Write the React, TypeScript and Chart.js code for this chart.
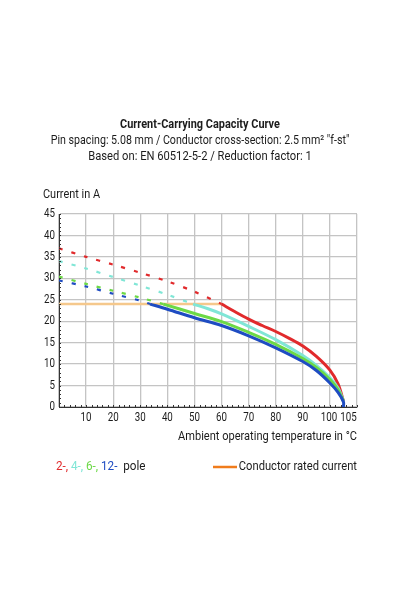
import React, { useEffect, useRef } from "react";
import { Chart, registerables } from "chart.js";

Chart.register(...registerables);

const FONT = "Roboto, 'Noto Sans', sans-serif";

// Title texts
const titleLines = [
  "Current-Carrying Capacity Curve",
  "Pin spacing: 5.08 mm / Conductor cross-section: 2.5 mm\u00B2 \"f-st\"",
  "Based on: EN 60512-5-2 / Reduction factor: 1",
];
const yAxisTitle = "Current in A";
const xAxisTitle = "Ambient operating temperature in \u00B0C";

// Axis ticks
const xGridValues = [0, 10, 20, 30, 40, 50, 60, 70, 80, 90, 100, 110];
const xTickLabels = [10, 20, 30, 40, 50, 60, 70, 80, 90, 100, 105];
const yTickLabels = [0, 5, 10, 15, 20, 25, 30, 35, 40, 45];

// 2-pole (red)
const redDashT = [0, 10, 20, 30, 40, 50, 60];
const redDashI = [37.0, 35.0, 33.2, 31.3, 29.3, 26.9, 24.0];
const redT = [60, 65, 70, 75, 80, 85, 90, 95, 100, 103, 105];
const redI = [24.0, 22.2, 20.5, 19.0, 17.6, 16.0, 14.2, 11.8, 8.6, 5.4, 1.4];

// 4-pole (cyan)
const cyanDashT = [0, 10, 20, 30, 40, 49.5];
const cyanDashI = [34.0, 32.3, 30.3, 28.3, 26.2, 24.0];
const cyanT = [49.5, 55, 60, 70, 80, 90, 95, 100, 103, 105];
const cyanI = [24.0, 22.9, 21.7, 18.8, 15.7, 12.0, 9.7, 6.8, 4.4, 1.4];

// 6-pole (green)
const greenDashT = [0, 10, 20, 30, 38.5];
const greenDashI = [30.4, 28.7, 27.1, 25.5, 24.0];
const greenT = [38.5, 50, 60, 70, 80, 90, 95, 100, 103, 105];
const greenI = [24.0, 21.8, 19.9, 17.4, 14.6, 11.3, 9.2, 6.4, 4.0, 1.4];

// 12-pole (blue)
const blueDashT = [0, 10, 20, 30, 33.6];
const blueDashI = [29.5, 28.1, 26.4, 24.8, 24.0];
const blueT = [33.6, 40, 50, 60, 70, 80, 90, 95, 100, 103, 105, 105];
const blueI = [24.0, 22.8, 20.8, 19.0, 16.6, 13.8, 10.6, 8.5, 5.6, 3.4, 1.2, 0];

// Conductor rated current (orange)
const ratedT = [0, 60];
const ratedI = [24, 24];

const RED = "#e12a2c";
const CYAN = "#80e6d6";
const GREEN = "#6cd946";
const BLUE = "#1e4cc2";
const ORANGE_LINE = "#f5c88c";
const ORANGE_LEGEND = "#f07c1c";
const TEXT = "#1c1c1c";

const legendParts = [
  { text: "2-,", color: RED },
  { text: " 4-,", color: CYAN },
  { text: " 6-,", color: GREEN },
  { text: " 12-", color: BLUE },
  { text: "  pole", color: TEXT },
];
const ratedLegend = "Conductor rated current";

const zip = (t: number[], v: number[]) => t.map((x, i) => ({ x, y: v[i] }));

// draws horizontally condensed text; returns drawn width
function drawText(
  ctx: CanvasRenderingContext2D,
  text: string,
  x: number,
  y: number,
  align: "left" | "center" | "right",
  font: string,
  sx: number,
  color: string
) {
  ctx.save();
  ctx.font = font;
  ctx.fillStyle = color;
  ctx.textAlign = "left";
  ctx.textBaseline = "middle";
  const w = ctx.measureText(text).width * sx;
  const left = align === "left" ? x : align === "center" ? x - w / 2 : x - w;
  ctx.translate(left, y);
  ctx.scale(sx, 1);
  ctx.fillText(text, 0, 0);
  ctx.restore();
  return w;
}

const overlay = {
  id: "overlay",
  afterDraw(chart: any) {
    const ctx = chart.ctx as CanvasRenderingContext2D;
    const xs = chart.scales.x;
    const ys = chart.scales.y;
    const area = chart.chartArea;
    ctx.save();
    // minor ticks
    ctx.strokeStyle = "#333";
    ctx.lineWidth = 1;
    ctx.beginPath();
    for (let v = 0; v <= 45; v += 1) {
      const py = Math.round(ys.getPixelForValue(v)) + 0.5;
      ctx.moveTo(area.left, py);
      ctx.lineTo(area.left + 2, py);
    }
    for (let v = 0; v <= 110; v += 2) {
      const px = Math.round(xs.getPixelForValue(v)) + 0.5;
      ctx.moveTo(px, area.bottom);
      ctx.lineTo(px, area.bottom - 2);
    }
    ctx.stroke();
    ctx.restore();

    const tickFont = `12.5px ${FONT}`;
    xTickLabels.forEach((v) => {
      const off = v === 105 ? 5 : v === 100 ? -1 : 0;
      drawText(ctx, String(v), xs.getPixelForValue(v) + off, area.bottom + 11, "center", tickFont, 0.78, TEXT);
    });
    yTickLabels.forEach((v) => {
      drawText(ctx, String(v), area.left - 4, ys.getPixelForValue(v), "right", tickFont, 0.78, TEXT);
    });

    // titles
    drawText(ctx, titleLines[0], 200, 125, "center", `bold 13px ${FONT}`, 0.84, TEXT);
    drawText(ctx, titleLines[1], 200, 141, "center", `13px ${FONT}`, 0.82, TEXT);
    drawText(ctx, titleLines[2], 200, 157, "center", `13px ${FONT}`, 0.86, TEXT);

    const f13 = `13px ${FONT}`;
    drawText(ctx, yAxisTitle, 43, 195, "left", f13, 0.84, TEXT);
    drawText(ctx, xAxisTitle, area.right, 437, "right", f13, 0.85, TEXT);

    // legend
    let lx = 56;
    legendParts.forEach((p) => {
      lx += drawText(ctx, p.text, lx, 467, "left", f13, 0.9, p.color);
    });
    ctx.save();
    ctx.strokeStyle = ORANGE_LEGEND;
    ctx.lineWidth = 2.5;
    ctx.beginPath();
    ctx.moveTo(213, 467);
    ctx.lineTo(237, 467);
    ctx.stroke();
    ctx.restore();
    drawText(ctx, ratedLegend, area.right, 467, "right", f13, 0.86, TEXT);
  },
};

export default function App() {
  const ref = useRef<HTMLCanvasElement | null>(null);
  useEffect(() => {
    if (!ref.current) return;
    const solid = (data: any[], color: string) => ({
      data,
      borderColor: color,
      borderWidth: 3,
      pointRadius: 0,
      fill: false,
      tension: 0.35,
    });
    const dashed = (data: any[], color: string) => ({
      data,
      borderColor: color,
      borderWidth: 2.2,
      borderDash: [4, 9],
      pointRadius: 0,
      fill: false,
      tension: 0.3,
    });
    const chart = new Chart(ref.current, {
      type: "line",
      data: {
        datasets: [
          solid(zip(blueT, blueI), BLUE),
          solid(zip(greenT, greenI), GREEN),
          solid(zip(cyanT, cyanI), CYAN),
          solid(zip(redT, redI), RED),
          dashed(zip(blueDashT, blueDashI), BLUE),
          dashed(zip(greenDashT, greenDashI), GREEN),
          dashed(zip(cyanDashT, cyanDashI), CYAN),
          dashed(zip(redDashT, redDashI), RED),
          { ...solid(zip(ratedT, ratedI), ORANGE_LINE), borderWidth: 2.5, tension: 0 },
        ],
      },
      options: {
        responsive: false,
        animation: false,
        events: [],
        layout: { padding: { left: 0, top: 214, right: 43, bottom: 193 } },
        plugins: { legend: { display: false }, tooltip: { enabled: false }, title: { display: false } },
        scales: {
          x: {
            type: "linear",
            min: 0,
            max: 110,
            afterBuildTicks: (s: any) => {
              s.ticks = xGridValues.map((v) => ({ value: v }));
            },
            ticks: { display: false },
            grid: { color: "#c4c4c4", lineWidth: 1.3, drawTicks: false },
            border: { color: "#333", width: 1 },
          },
          y: {
            min: 0,
            max: 45,
            ticks: { stepSize: 5, display: false },
            grid: { color: "#c4c4c4", lineWidth: 1.3, drawTicks: false },
            border: { color: "#333", width: 1 },
            afterFit: (s: any) => {
              s.width = 59;
            },
          },
        },
      },
      plugins: [overlay],
    });
    return () => chart.destroy();
  }, []);
  return (
    <div style={{ position: "absolute", left: 0, top: 0, width: 400, height: 600, background: "#fff" }}>
      <canvas ref={ref} width={400} height={600} style={{ width: 400, height: 600 }} />
    </div>
  );
}
